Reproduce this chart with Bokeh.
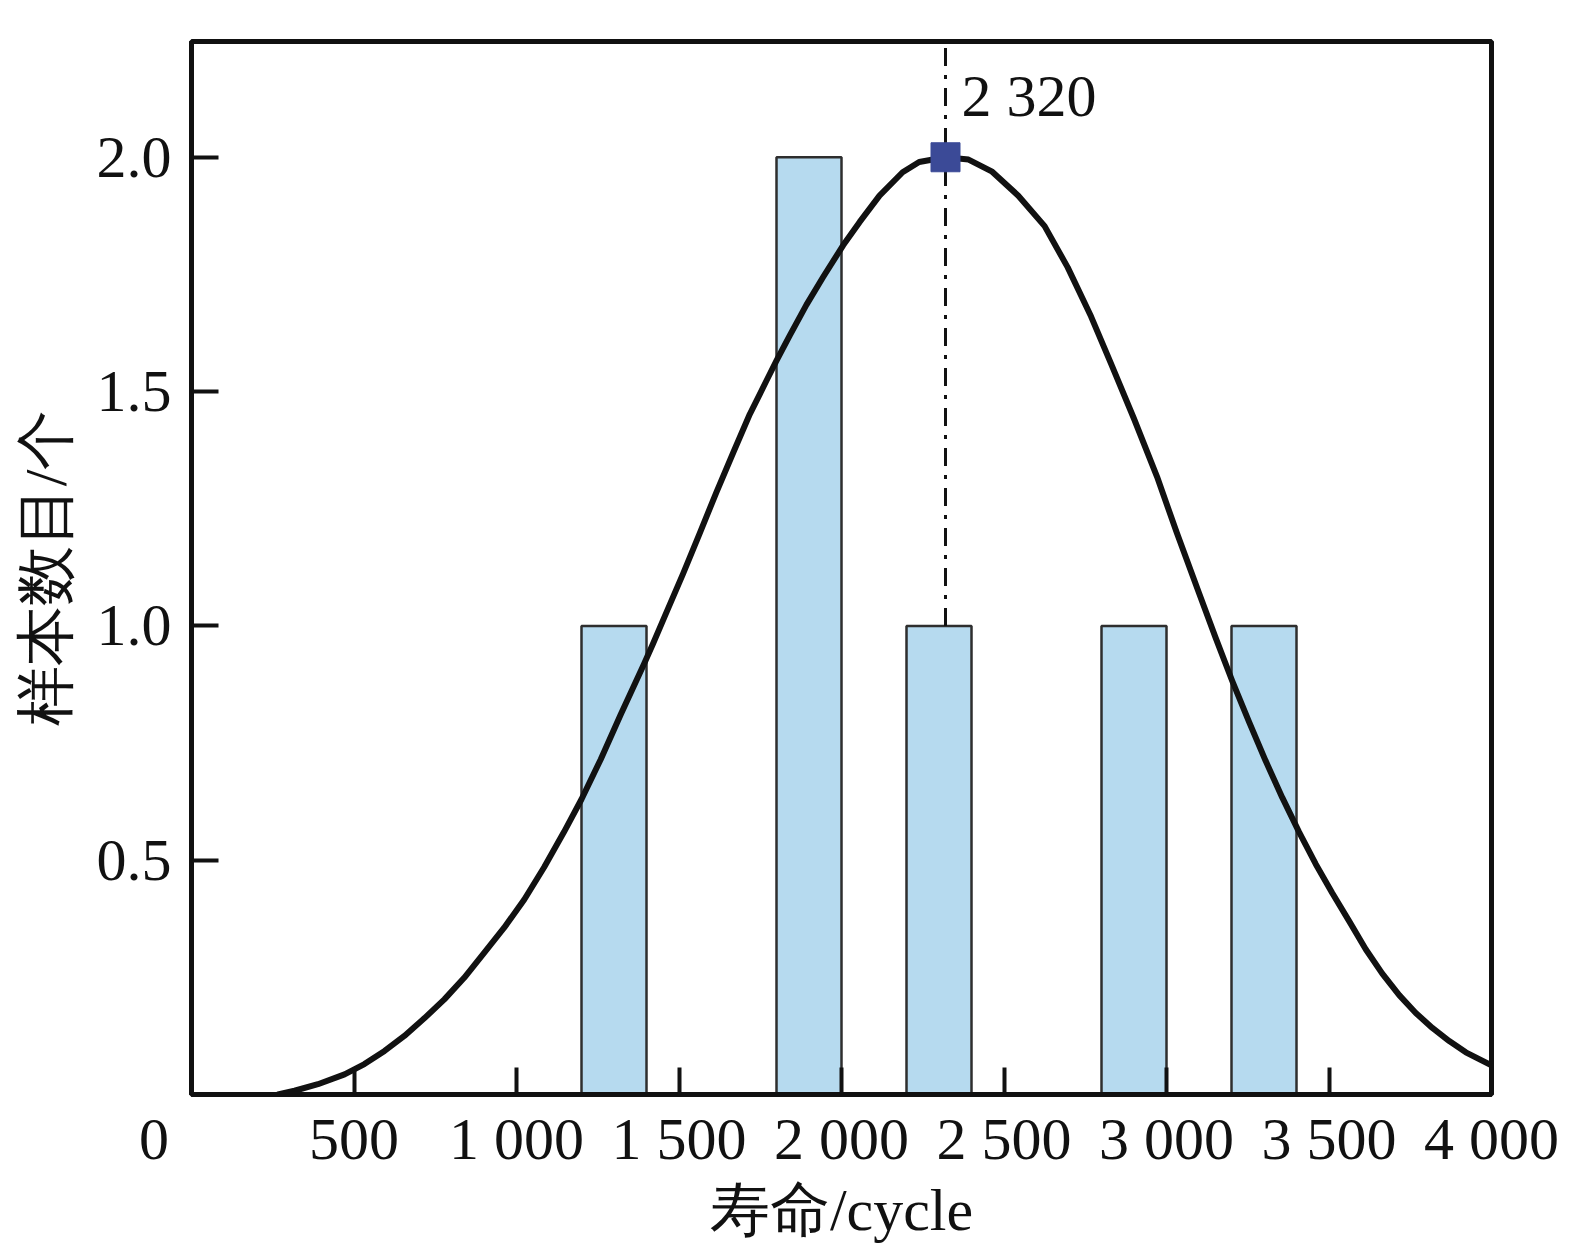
from bokeh.plotting import figure
from bokeh.models import Range1d, FixedTicker, Label, PrintfTickFormatter
from bokeh.embed import file_html
from bokeh.resources import INLINE

# histogram bins (cycles) and counts
bin_left = [1200, 1800, 2200, 2800, 3200]
bin_right = [1400, 2000, 2400, 3000, 3400]
counts = [1, 2, 1, 1, 1]

# fitted distribution curve
curve_x = [266, 317, 389, 471, 532, 594, 655, 717, 778, 839, 901, 962, 1024, 1085,
           1146, 1200, 1259, 1320, 1392, 1420, 1462, 1513, 1564, 1615, 1667, 1718,
           1769, 1800, 1841, 1892, 1944, 2005, 2056, 2117, 2188, 2239, 2320, 2391,
           2462, 2544, 2625, 2696, 2768, 2829, 2900, 2971, 3032, 3100, 3151, 3202,
           3254, 3305, 3356, 3408, 3459, 3510, 3562, 3613, 3664, 3716, 3767, 3818,
           3870, 3921, 4000]
curve_y = [0.0, 0.008, 0.022, 0.043, 0.065, 0.093, 0.125, 0.163, 0.203, 0.249, 0.303,
           0.356, 0.416, 0.485, 0.560, 0.630, 0.715, 0.810, 0.918, 0.962, 1.030, 1.112,
           1.198, 1.285, 1.370, 1.452, 1.523, 1.566, 1.620, 1.685, 1.745, 1.812, 1.862,
           1.918, 1.968, 1.990, 2.0, 1.995, 1.970, 1.918, 1.853, 1.765, 1.660, 1.560,
           1.442, 1.318, 1.198, 1.070, 0.975, 0.883, 0.795, 0.712, 0.634, 0.560, 0.492,
           0.430, 0.370, 0.310, 0.258, 0.212, 0.174, 0.142, 0.114, 0.090, 0.062]

peak_x = 2320
peak_y = 2.0
peak_label = "2 320"

xtick_vals = [0, 500, 1000, 1500, 2000, 2500, 3000, 3500, 4000]
xtick_labels = ["0", "500", "1 000", "1 500", "2 000", "2 500", "3 000", "3 500", "4 000"]
ytick_vals = [0.5, 1.0, 1.5, 2.0]

x_title = "寿命/cycle"
y_title = "样本数目/个"

X_MAX = 4000
Y_MAX = 2.247
FONT = "Liberation Serif"
FS = "60px"
INK = "#111111"

p = figure(frame_width=1300, frame_height=1053,
           x_range=Range1d(0, X_MAX), y_range=Range1d(0, Y_MAX),
           output_backend="svg", toolbar_location=None,
           min_border_left=191, min_border_right=72,
           min_border_top=41, min_border_bottom=150)
p.grid.visible = False
p.outline_line_color = INK
p.outline_line_width = 5
p.background_fill_color = "white"

p.quad(left=bin_left, right=bin_right, bottom=0, top=counts,
       fill_color="#b6daef", line_color="#2e2e2e", line_width=2.5)

p.line(curve_x, curve_y, line_color=INK, line_width=6, line_join="round", line_cap="round")

p.segment(x0=[peak_x], y0=[1.0], x1=[peak_x], y1=[Y_MAX],
          line_color=INK, line_width=3, line_dash="18 9 4 9")

p.scatter([peak_x], [peak_y], marker="square", size=29,
          fill_color="#3b4a97", line_color="#3b4a97")

p.add_layout(Label(x=peak_x, y=peak_y, text=peak_label, x_offset=16, y_offset=61,
                   text_align="left", text_baseline="alphabetic",
                   text_font=FONT, text_font_size=FS, text_color=INK))

# axes
for ax in (p.xaxis[0], p.yaxis[0]):
    ax.axis_line_color = INK
    ax.axis_line_width = 5
    ax.major_tick_line_color = INK
    ax.major_tick_line_width = 4
    ax.major_tick_in = 27
    ax.major_tick_out = 0
    ax.minor_tick_line_color = None
    ax.major_label_text_font = FONT
    ax.major_label_text_font_size = FS
    ax.major_label_text_color = INK
    ax.axis_label_text_font = FONT
    ax.axis_label_text_font_size = FS
    ax.axis_label_text_font_style = "normal"
    ax.axis_label_text_color = INK

# the origin "0" sits left of the corner: pad it on the right so it shifts left
overrides = {}
for v, s in zip(xtick_vals, xtick_labels):
    overrides[v] = s + "\u00a0" * 5 if v == 0 else s

p.xaxis.ticker = FixedTicker(ticks=xtick_vals)
p.xaxis.major_label_overrides = overrides
p.xaxis.major_label_standoff = 11
p.xaxis.axis_label = x_title
p.xaxis.axis_label_standoff = 2

p.yaxis.ticker = FixedTicker(ticks=ytick_vals)
p.yaxis.formatter = PrintfTickFormatter(format="%.1f")
p.yaxis.major_label_standoff = 20
p.yaxis.axis_label = y_title
p.yaxis.axis_label_standoff = 15

open("out.html", "w").write(file_html(p, INLINE))
